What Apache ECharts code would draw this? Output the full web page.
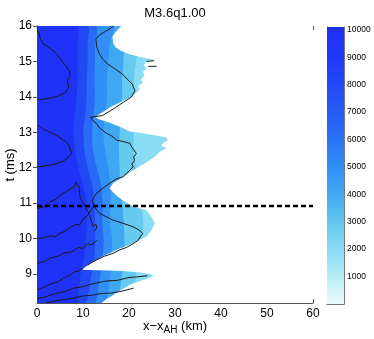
<!DOCTYPE html>
<html><head><meta charset="utf-8">
<script src="https://cdn.jsdelivr.net/npm/echarts@6/dist/echarts.min.js"></script>
<style>html,body{margin:0;padding:0;background:#fff}#c{width:374px;height:339px}</style>
</head><body><div id="c"></div>
<script>
// ---- data ----
const bandT = [8.18, 8.5, 9.0, 9.5, 10.0, 10.5, 11.0, 11.5, 12.0, 12.5, 13.0, 13.5, 14.0, 14.5, 15.0, 15.5, 16.0];
// x (km) where Omega drops below each band (band k ends at boundary k)
const bound0 = [8.5, 9.0, 9.5, 10.3, 10.6, 10.8, 10.8, 10.0, 9.0, 8.3, 7.9, 8.2, 8.6, 8.8, 8.8, 8.8, 8.8];
const bound1 = [10.5, 11.2, 11.8, 12.5, 12.6, 12.6, 12.5, 12.0, 11.0, 10.3, 10.1, 10.5, 10.8, 10.8, 11.0, 11.0, 11.0];
const bound2 = [12.5, 13.2, 13.8, 14.3, 14.5, 14.2, 14.2, 14.0, 13.0, 12.2, 12.0, 12.3, 12.6, 12.5, 12.6, 12.6, 12.8];
const bound3 = [14.5, 15.5, 16.0, 16.3, 16.3, 15.8, 16.0, 16.0, 15.5, 14.8, 14.4, 14.8, 15.2, 15.2, 15.5, 15.8, 16.5];
const bound4 = [17.0, 18.0, 18.5, 19.0, 19.0, 18.8, 18.5, 18.0, 18.0, 17.8, 18.0, 18.3, 18.5, 18.5, 18.8, 19.0, 19.0];
const bound5 = [19.5, 21.0, 21.5, 22.0, 22.8, 23.1, 22.5, 22.0, 21.5, 21.0, 21.0, 21.2, 21.2, 21.1, 21.5, 22.0, 22.0];
const bandLevels = [9800, 8000, 6400, 5000, 4000, 2900, 2000];   // rad/s
// outer edge of the coloured region (white beyond)
const edgeT = [8.18, 8.3, 8.4, 8.5, 8.6, 8.7, 8.8, 8.9, 8.95, 9.0, 9.05, 9.08, 9.12, 9.2, 9.3, 9.4, 9.5, 9.6, 9.7, 9.8, 9.9, 10.05, 10.24, 10.43, 10.61, 10.8, 10.9, 11.0, 11.1, 11.18, 11.3, 11.41, 11.56, 11.74, 11.93, 12.12, 12.31, 12.45, 12.54, 12.62, 12.69, 12.78, 12.85, 12.92, 12.97, 13.02, 13.1, 13.18, 13.28, 13.36, 13.42, 13.5, 13.6, 13.7, 13.8, 13.9, 14.0, 14.1, 14.2, 14.3, 14.4, 14.5, 14.6, 14.7, 14.8, 14.9, 15.0, 15.05, 15.1, 15.2, 15.3, 15.4, 15.5, 15.6, 15.7, 15.8, 15.9, 16.0];
const edgeX = [14.0, 15.2, 16.5, 17.6, 19.0, 20.3, 22.5, 24.6, 25.4, 24.5, 22.0, 19.0, 9.7, 10.6, 11.6, 13.0, 14.2, 16.0, 17.6, 19.8, 21.2, 23.8, 24.9, 25.6, 24.9, 23.8, 21.0, 19.6, 18.4, 17.6, 16.6, 15.8, 16.5, 18.7, 20.9, 23.4, 25.6, 26.7, 28.1, 27.0, 27.4, 28.5, 28.1, 25.2, 23.0, 20.1, 19.0, 17.6, 15.5, 13.6, 12.7, 13.4, 14.7, 15.8, 17.3, 18.9, 20.5, 21.4, 22.3, 22.0, 23.0, 22.6, 23.4, 23.0, 23.8, 23.2, 23.8, 25.5, 23.4, 20.1, 18.2, 17.1, 16.6, 16.5, 16.4, 16.9, 17.6, 18.3];
// contour lines [x km, t ms]
const contourOuter = [[16.7,16.0],[15.8,15.92],[14.5,15.82],[13.3,15.72],[12.8,15.63],[12.9,15.5],[13.0,15.4],[13.6,15.2],[14.2,15.08],[15.3,14.93],[16.6,14.82],[18.6,14.64],[19.6,14.5],[20.7,14.36],[21.3,14.17],[20.5,13.99],[18.8,13.85],[17.1,13.7],[15.6,13.58],[14.2,13.47],[12.6,13.44],[11.6,13.42],[12.2,13.33],[12.9,13.25],[13.6,13.12],[15.1,12.97],[16.2,12.9],[17.3,12.78],[18.6,12.74],[20.2,12.69],[20.6,12.58],[21.6,12.4],[21.0,12.3],[21.2,12.2],[20.6,12.1],[20.9,12.03],[20.2,11.93],[19.5,11.85],[18.7,11.74],[17.2,11.68],[15.8,11.56],[14.6,11.45],[12.9,11.27],[12.3,11.15],[12.0,11.05],[12.5,10.9],[13.0,10.8],[13.6,10.71],[15.0,10.62],[16.5,10.52],[18.5,10.44],[20.9,10.33],[22.2,10.24],[23.0,10.14],[22.4,10.04],[22.0,9.95],[20.8,9.85],[19.5,9.75],[18.0,9.68],[16.5,9.58],[14.6,9.5],[13.0,9.4],[12.0,9.33],[11.0,9.25]];
const contourTopA = [[0,15.95],[0.4,15.8],[0.8,15.62],[1.3,15.5],[2.8,15.38],[4.2,15.23],[5.2,15.05],[6.4,14.85],[7.1,14.7],[7.1,14.57],[6.6,14.45],[6.9,14.3],[6.2,14.12],[4.2,14.0],[2.2,13.95],[0.6,13.92],[0,13.92]];
const contourTopB = [[0,13.2],[1.2,13.1],[2.8,13.0],[4.4,12.9],[5.7,12.78],[6.6,12.7],[7.1,12.59],[7.3,12.5],[7.5,12.4],[6.9,12.3],[6.0,12.21],[4.4,12.12],[2.8,12.07],[0.6,12.03],[0,12.03]];
const contourLowA = [[0,10.0],[1.5,10.02],[3,10.08],[4,10.05],[5,10.15],[6,10.2],[7,10.3],[8.5,10.4],[9.2,10.38],[10,10.55],[10.8,10.62],[11.5,10.75],[12.3,10.9]];
const contourLowB = [[0,10.85],[1.2,10.88],[2,10.95],[3,11.05],[4,11.1],[5,11.22],[6,11.3],[7,11.38],[8,11.45],[8.5,11.6],[8.8,11.55],[9.3,11.4],[9.2,11.25],[9.6,11.1],[10.5,10.9],[10.9,10.8],[11.3,10.7],[11.8,10.5],[12.2,10.35],[12.8,10.4],[13.0,10.3],[12.4,10.2]];
const contourLowC = [[0,9.3],[1.5,9.35],[3,9.45],[4.5,9.5],[6,9.6],[7.5,9.62],[9,9.75],[10,9.72],[11,9.85],[12,9.82],[13,9.95]];
const contourLowD = [[0,8.55],[1.5,8.62],[3,8.72],[4.5,8.78],[6,8.9],[7,8.95],[8,9.05],[9,9.08],[10,9.15]];
const contourLowE = [[0,8.3],[2,8.36],[4,8.45],[6,8.5],[8,8.6],[10,8.64],[12,8.72],[15,8.8],[17.5,8.82],[20,8.9],[22,8.92],[24,8.95]];
const contourLowF = [[2,8.18],[4,8.24],[6,8.28],[8,8.32],[10,8.38],[12,8.4],[14,8.45],[16,8.46],[18,8.5],[19.5,8.55],[21,8.6]];
const contourIsle1 = [[23.8,15.0],[25.5,15.02]];
const contourIsle2 = [[24.2,14.86],[26.0,14.86]];
const dashT = 10.92;
const yTickValues = [9, 10, 11, 12, 13, 14, 15, 16];
const cbTickValues = [1000, 2000, 3000, 4000, 5000, 6000, 7000, 8000, 9000, 10000];
// colormap (style) for 0,1000,...,10000
const cmap = ['#eefbfe','#b8ecf6','#88dcf3','#62c8f0','#40a8f2','#3190f5','#2a74f5','#255cf5','#2248f6','#203af7','#1e30f8'];

const bounds = [bound0, bound1, bound2, bound3, bound4, bound5];
const FONT = 'Liberation Sans, Arial, Helvetica, sans-serif';
const chart = echarts.init(document.getElementById('c'));

function bandItem(params, api) {
  const k = api.value(1);
  const pts = [];
  if (k >= bounds.length) {
    pts.push(api.coord([0, bandT[0]]), api.coord([60, bandT[0]]), api.coord([60, bandT[bandT.length-1]]), api.coord([0, bandT[bandT.length-1]]));
  } else {
    const xs = bounds[k];
    pts.push(api.coord([0, bandT[0]]));
    for (let i = 0; i < bandT.length; i++) pts.push(api.coord([xs[i], bandT[i]]));
    pts.push(api.coord([0, bandT[bandT.length-1]]));
  }
  return { type: 'polygon', shape: { points: pts, smooth: k >= bounds.length ? 0 : 0.25 }, style: { fill: api.visual('color') } };
}
function whiteItem(params, api) {
  const pts = [];
  for (let i = 0; i < edgeT.length; i++) pts.push(api.coord([edgeX[i], edgeT[i]]));
  pts.push(api.coord([60, edgeT[edgeT.length-1]]));
  pts.push(api.coord([60, edgeT[0]]));
  return { type: 'polygon', shape: { points: pts }, style: { fill: '#ffffff' } };
}
function cbItem(params, api) {
  const p0 = api.coord([0, 0]);
  const p1 = api.coord([1, 10100]);
  const size = api.size([1, 0]);
  const stops = cmap.map((c, i) => ({ offset: (i * 1000) / 10100, color: c }));
  stops.push({ offset: 1, color: cmap[cmap.length-1] });
  return { type: 'rect', shape: { x: p0[0] - size[0] / 2, y: p1[1], width: size[0], height: p0[1] - p1[1] },
    style: { fill: new echarts.graphic.LinearGradient(0, 1, 0, 0, stops) } };
}
const lineStyleC = { color: '#1a1a1a', width: 1 };
const contourList = [contourOuter, contourTopA, contourTopB, contourLowA, contourLowB, contourLowC, contourLowD, contourLowE, contourLowF, contourIsle1, contourIsle2];
const contourSeries = contourList.map(d => ({ type: 'line', xAxisIndex: 0, yAxisIndex: 0, data: d, symbol: 'none', lineStyle: lineStyleC, z: 5, silent: true, animation: false }));

const axisLineStyle = { lineStyle: { color: '#555', width: 1 } };
chart.setOption({
  animation: false,
  grid: [
    { left: 37, right: 61, top: 26, bottom: 36, show: false },
    { left: 327, right: 30, top: 27, bottom: 35, show: false }
  ],
  visualMap: { type: 'continuous', show: false, min: 0, max: 10000, dimension: 0, seriesIndex: 0, inRange: { color: cmap } },
  xAxis: [
    { type: 'value', gridIndex: 0, min: 0, max: 60, interval: 10, axisLine: axisLineStyle, axisTick: { inside: true, length: 4, lineStyle: { color: '#555' } }, splitLine: { show: false }, axisLabel: { fontFamily: FONT, fontSize: 12, color: '#000', margin: 5 } },
    { type: 'value', gridIndex: 0, position: 'top', min: 0, max: 60, interval: 10, axisLine: axisLineStyle, axisTick: { inside: true, length: 4, lineStyle: { color: '#555' } }, splitLine: { show: false }, axisLabel: { show: false } },
    { type: 'category', gridIndex: 1, data: ['cb'], axisLine: { show: true, lineStyle: { color: '#777' } }, axisTick: { show: false }, axisLabel: { show: false } },
    { type: 'category', gridIndex: 1, position: 'top', data: ['cb'], axisLine: { show: true, lineStyle: { color: '#777' } }, axisTick: { show: false }, axisLabel: { show: false } }
  ],
  yAxis: [
    { type: 'value', gridIndex: 0, min: 8.18, max: 16, axisLine: axisLineStyle, axisTick: { inside: true, length: 4, customValues: yTickValues, lineStyle: { color: '#555' } }, splitLine: { show: false }, axisLabel: { customValues: yTickValues, fontFamily: FONT, fontSize: 12, color: '#000', margin: 5 } },
    { type: 'value', gridIndex: 0, position: 'right', min: 8.18, max: 16, axisLine: axisLineStyle, axisTick: { inside: true, length: 4, customValues: yTickValues, lineStyle: { color: '#555' } }, splitLine: { show: false }, axisLabel: { show: false } },
    { type: 'value', gridIndex: 1, position: 'right', min: 0, max: 10100, axisLine: { show: true, lineStyle: { color: '#777' } }, axisTick: { show: true, inside: true, length: 2, customValues: cbTickValues, lineStyle: { color: '#777' } }, splitLine: { show: false }, axisLabel: { customValues: cbTickValues, formatter: v => String(v), fontFamily: FONT, fontSize: 8.5, color: '#000', margin: 3 } },
    { type: 'value', gridIndex: 1, position: 'left', min: 0, max: 10100, axisLine: { show: true, lineStyle: { color: '#777' } }, axisTick: { show: true, inside: true, length: 2, customValues: cbTickValues, lineStyle: { color: '#777' } }, splitLine: { show: false }, axisLabel: { show: false } }
  ],
  series: [
    { type: 'custom', xAxisIndex: 0, yAxisIndex: 0, renderItem: bandItem, data: bandLevels.map((v, i) => [v, i]).reverse(), z: 1, silent: true, clip: true },
    { type: 'custom', xAxisIndex: 0, yAxisIndex: 0, renderItem: whiteItem, data: [[0]], z: 2, silent: true, clip: true },
    ...contourSeries,
    { type: 'line', xAxisIndex: 0, yAxisIndex: 0, data: [[0, dashT], [60, dashT]], symbol: 'none', lineStyle: { color: '#000', width: 2.6, type: [5, 3] }, z: 6, silent: true },
    { type: 'custom', xAxisIndex: 2, yAxisIndex: 2, renderItem: cbItem, data: [[0]], silent: true, z: 1 }
  ],
  graphic: [
    { type: 'text', style: { text: 'M3.6q1.00', x: 175, y: 13, fontFamily: FONT, fontSize: 13, fill: '#000', textAlign: 'center', textVerticalAlign: 'middle' } },
    { type: 'text', style: { text: 'Ω', x: 272, y: 38, fontFamily: FONT, fontSize: 12, fill: '#000', textVerticalAlign: 'middle' } },
    { type: 'text', style: { text: '(rad/s)', x: 272, y: 50, fontFamily: FONT, fontSize: 12, fill: '#000', textVerticalAlign: 'middle' } },
    { type: 'text', style: { x: 175, y: 326, textAlign: 'center', textVerticalAlign: 'middle', fontFamily: FONT, fill: '#000',
        rich: { a: { fontSize: 13, fontFamily: FONT }, s: { fontSize: 10, fontFamily: FONT, padding: [8, 0, 0, 0] } },
        text: '{a|x−x}{s|AH}{a| (km)}' } },
    { type: 'text', x: 10, y: 165, rotation: Math.PI / 2, style: { text: 't (ms)', fontFamily: FONT, fontSize: 13, fill: '#000', textAlign: 'center', textVerticalAlign: 'middle' } }
  ]
});
</script></body></html>
